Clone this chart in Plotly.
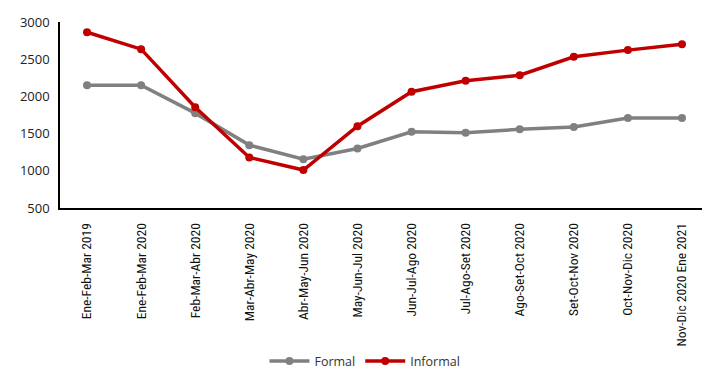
import plotly.graph_objects as go

periods = [
    "Ene-Feb-Mar 2019", "Ene-Feb-Mar 2020", "Feb-Mar-Abr 2020", "Mar-Abr-May 2020",
    "Abr-May-Jun 2020", "May-Jun-Jul 2020", "Jun-Jul-Ago 2020", "Jul-Ago-Set 2020",
    "Ago-Set-Oct 2020", "Set-Oct-Nov 2020", "Oct-Nov-Dic 2020", "Nov-Dic 2020 Ene 2021",
]
formal = [2150, 2150, 1775, 1345, 1155, 1300, 1525, 1512, 1558, 1590, 1708, 1708]
informal = [2862, 2635, 1855, 1180, 1010, 1600, 2063, 2210, 2285, 2532, 2622, 2700]

fig = go.Figure()
fig.add_trace(go.Scatter(
    x=periods, y=formal, name="Formal", mode="lines+markers",
    line=dict(color="#808080", width=3.5),
    marker=dict(size=8, color="#808080"),
))
fig.add_trace(go.Scatter(
    x=periods, y=informal, name="Informal", mode="lines+markers",
    line=dict(color="#C00000", width=3.5),
    marker=dict(size=8, color="#C00000"),
))

fig.update_layout(
    width=702, height=371,
    margin=dict(l=60, r=0, t=22, b=163, autoexpand=False),
    paper_bgcolor="white", plot_bgcolor="white",
    font=dict(family="Open Sans, Noto Sans, sans-serif", color="#222222", size=12),
    showlegend=True,
    legend=dict(
        orientation="h", x=0.475, xanchor="center", y=-0.825, yanchor="middle",
        font=dict(size=12.5, color="#333333"), itemwidth=40,
    ),
    xaxis=dict(
        type="category", range=[-0.5, 11.37], automargin=False,
        showline=True, linecolor="black", linewidth=1.5,
        showgrid=False, ticks="", tickangle=-90, ticklabelstandoff=8,
        tickfont=dict(family="Liberation Sans Narrow, Arial Narrow, Roboto Condensed, sans-serif", size=13.5, color="#111111"),
    ),
    yaxis=dict(
        range=[500, 3000], tickvals=[500, 1000, 1500, 2000, 2500, 3000],
        automargin=False,
        showline=True, linecolor="black", linewidth=1.5,
        showgrid=False, ticks="", zeroline=False, ticklabelstandoff=6,
        tickfont=dict(size=13, color="#222222"),
    ),
)

fig.write_html("out.html")
